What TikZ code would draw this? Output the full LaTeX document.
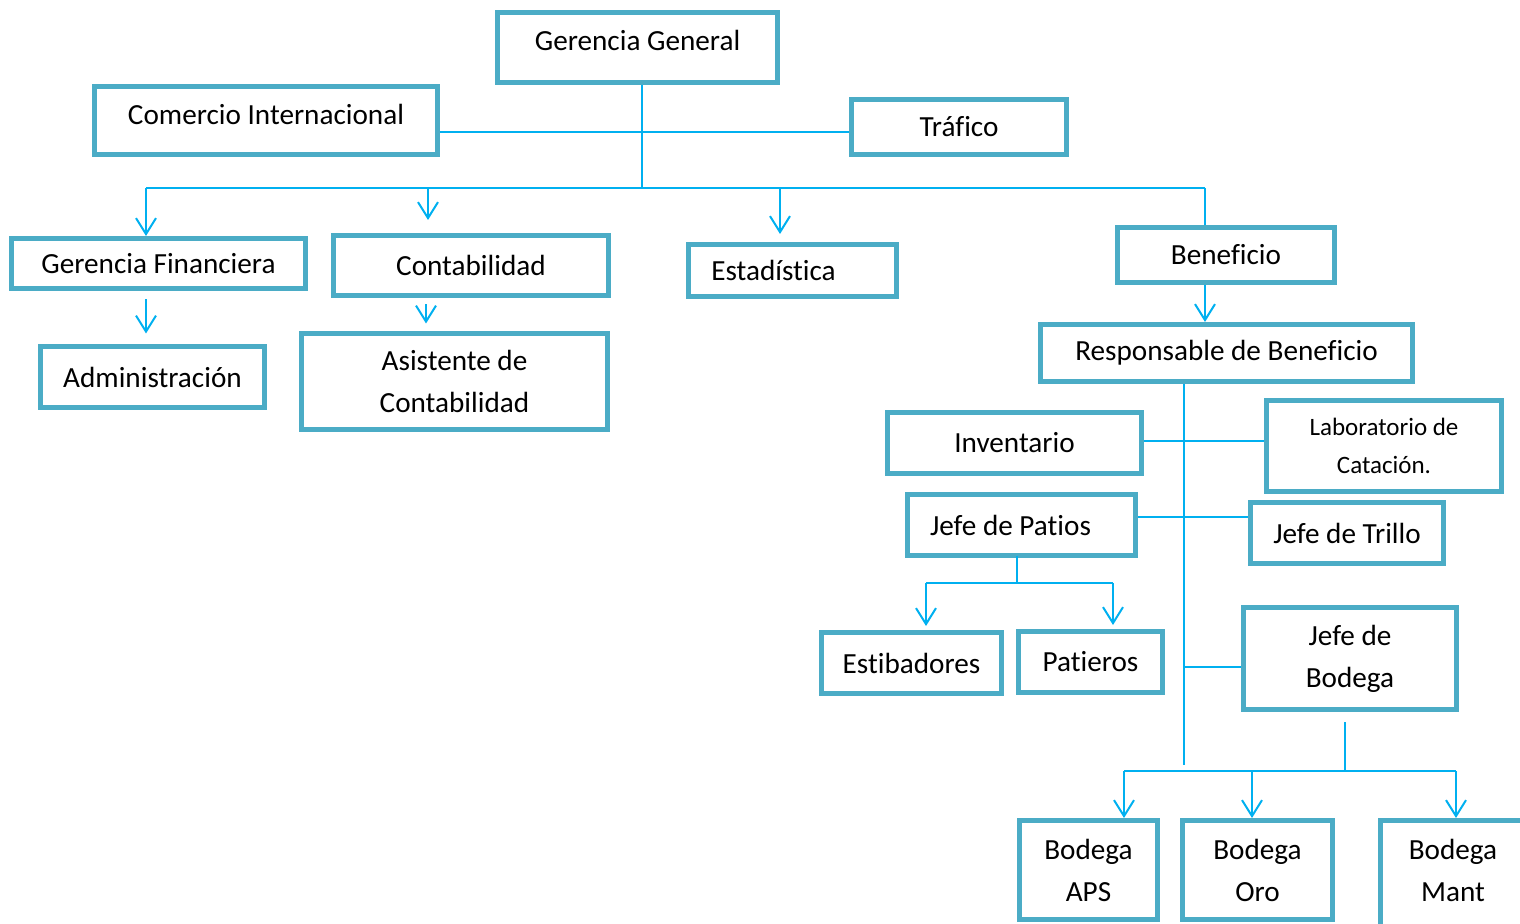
\documentclass[tikz,border=0pt]{standalone}
\usepackage{fontspec}
\setmainfont{Carlito}[Ligatures=CommonOff]
\usepackage{xcolor}
\usetikzlibrary{positioning,arrows.meta,calc}
\definecolor{boxc}{HTML}{4BACC6}
\definecolor{linec}{HTML}{00B0F0}
\tikzset{chart/.style={x=0.5pt,y=-0.5pt,>={Straight Barb[length=8pt,width=10pt]}},
    box/.style={draw=boxc,line width=2.5pt,fill=white,inner sep=0pt,align=center,
        font=\fontsize{14.6}{21}\selectfont},
    small/.style={font=\fontsize{12.5}{19}\selectfont},
    conn/.style={draw=linec,line width=1pt}}

\begin{document}
\begin{tikzpicture}[chart]
                    \clip (0,0) rectangle (1520,924);

                    \node[box](gg)[minimum width=140pt,minimum height=35pt,text depth=7pt] at (637.5,47.5) {Gerencia General};
                    \node[box](comercio)[minimum width=171.5pt,minimum height=34pt,text depth=6pt] at (266,120.5) {Comercio Internacional};
                    \node[box](trafico)[minimum width=107.5pt,minimum height=27.5pt] at (959,127) {Tráfico};
                    \node[box](gfin)[minimum width=147pt,minimum height=25pt] at (158.5,263.5) {Gerencia Financiera};
                    \node[box](conta)[minimum width=137.5pt,minimum height=30pt] at (471,265.5) {Contabilidad};
                    \node[box](estad)[minimum width=104pt,minimum height=26pt] at (792.5,270.5) {Estadística\hspace*{19pt}};
                    \node[box](benef)[minimum width=108.5pt,minimum height=27.5pt] at (1226,255) {Beneficio};
                    \node[box](admin)[minimum width=112pt,minimum height=30.5pt] at (152.5,377) {Administración};
                    \node[box](asist)[minimum width=153pt,minimum height=48pt] at (454.5,381.5) {Asistente de\\Contabilidad};
                    \node[box](resp)[minimum width=186pt,minimum height=28.5pt] at (1226.5,353) {Responsable de Beneficio};
                    \node[box](invent)[minimum width=127pt,minimum height=30.5pt] at (1014.5,443) {Inventario};
                    \node[box,small](lab)[minimum width=117.5pt,minimum height=45.5pt] at (1384,446) {Laboratorio de\\Catación.};
                    \node[box](patios)[minimum width=114pt,minimum height=30.5pt] at (1021.5,525) {Jefe de Patios\hspace*{11pt}};
                    \node[box](trillo)[minimum width=96.5pt,minimum height=30.5pt] at (1347,533) {Jefe de Trillo};
                    \node[box](estib)[minimum width=90pt,minimum height=30.5pt] at (911.5,663) {Estibadores};
                    \node[box](patier)[minimum width=72pt,minimum height=30.5pt] at (1090.5,662) {Patieros};
                    \node[box](jbod)[minimum width=106.5pt,minimum height=51pt] at (1350,658.5) {Jefe de\\Bodega};
                    \node[box](aps)[minimum width=69pt,minimum height=49.5pt] at (1088.5,870) {Bodega\\APS};
                    \node[box](oro)[minimum width=75pt,minimum height=49.5pt] at (1257.5,870) {Bodega\\Oro};
                    \node[box](mant)[minimum width=78.5pt,minimum height=61pt,text depth=11.5pt] at (1459,881.5) {Bodega\hspace*{6pt}\\Mant\hspace*{6pt}};

                    \coordinate (top) at (642,188);
                    \coordinate (mid) at (642,132);
                    \coordinate (busL) at (146,188);
                    \coordinate (busR) at (1205,188);
                    \coordinate (spine) at (1184,765);
                    \coordinate (pf) at (1017,583);
                    \coordinate (pL) at (926,583);
                    \coordinate (pR) at (1113,583);
                    \coordinate (bf) at (1345,771);
                    \coordinate (bL) at (1124,771);
                    \coordinate (bR) at (1456,771);

                    \draw[conn] (gg.south -| top) -- (top);
                    \draw[conn] (comercio.east |- mid) -- (trafico.west |- mid);
                    \draw[conn] (busL) -- (busR);
                    \draw[conn,->] (busL) -- (busL |- gfin.north);
                    \draw[conn,->,shorten >=6.5pt] ([xshift=-21.5pt]conta.north |- busL) -- ([xshift=-21.5pt]conta.north);
                    \draw[conn,->,shorten >=4pt] ([xshift=-6.25pt]estad.north |- busL) -- ([xshift=-6.25pt]estad.north);
                    \draw[conn] (busR) -- (busR |- benef.north);
                    \draw[conn,->,shorten <=4.25pt,shorten >=5.25pt] (busL |- gfin.south) -- (busL |- admin.north);
                    \draw[conn,->,shorten <=3.25pt,shorten >=3.75pt] ([xshift=-14.25pt]asist.north |- conta.south) -- ([xshift=-14.25pt]asist.north);
                    \draw[conn,->] (busR |- benef.south) -- (busR |- resp.north);

                    \draw[conn] (spine |- resp.south) -- (spine);
                    \draw[conn] ([yshift=1pt]invent.east) -- ([yshift=1pt]invent.east -| lab.west);
                    \draw[conn] ([yshift=4pt]patios.east) -- ([yshift=4pt]patios.east -| trillo.west);
                    \draw[conn] ([yshift=-4.25pt]jbod.west -| spine) -- ([yshift=-4.25pt]jbod.west);

                    \draw[conn,shorten <=-1pt] (pf |- patios.south) -- (pf);
                    \draw[conn] (pL) -- (pR);
                    \draw[conn,->,shorten >=2pt] (pL) -- (pL |- estib.north);
                    \draw[conn,->,shorten >=2pt] (pR) -- (pR |- patier.north);

                    \draw[conn,shorten <=5pt] (bf |- jbod.south) -- (bf);
                    \draw[conn] (bL) -- (bR);
                    \draw[conn,->] (bL) -- (bL |- aps.north);
                    \draw[conn,->] (bL -| oro.north) ++(-2.75pt,0) -- ([xshift=-2.75pt]oro.north);
                    \draw[conn,->] (bR) -- (bR |- mant.north);
                \end{tikzpicture}
\end{document}
